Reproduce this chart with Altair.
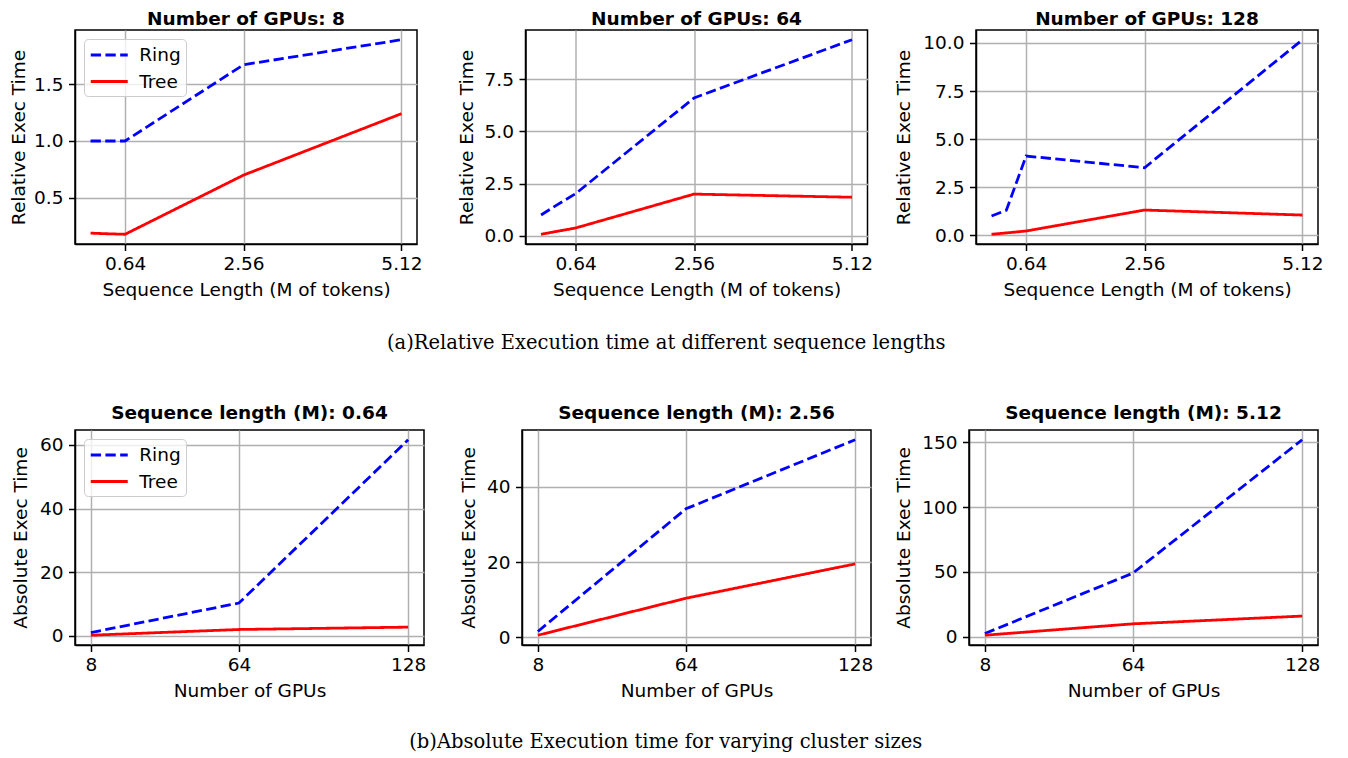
import altair as alt
import pandas as pd

# ---------------- data ----------------
seq_len = [0.08, 0.32, 0.64, 2.56, 5.12]
gpus = [8, 64, 128]
seq_ticks = [0.64, 2.56, 5.12]

rel_ring_8 = [1.0, 1.0, 1.0, 1.67, 1.89]
rel_tree_8 = [0.19, 0.185, 0.18, 0.70, 1.24]
rel_ring_64 = [1.0, 1.45, 2.02, 6.6, 9.38]
rel_tree_64 = [0.08, 0.21, 0.38, 2.0, 1.85]
rel_ring_128 = [1.0, 1.3, 4.12, 3.51, 10.17]
rel_tree_128 = [0.05, 0.12, 0.22, 1.31, 1.05]

abs_ring_064 = [1.05, 10.3, 61.6]
abs_tree_064 = [0.2, 2.0, 2.74]
abs_ring_256 = [1.6, 34.1, 52.4]
abs_tree_256 = [0.6, 10.4, 19.5]
abs_ring_512 = [2.3, 49.0, 152.0]
abs_tree_512 = [1.0, 9.8, 15.8]

top_titles = ["Number of GPUs: 8", "Number of GPUs: 64", "Number of GPUs: 128"]
bot_titles = ["Sequence length (M): 0.64", "Sequence length (M): 2.56", "Sequence length (M): 5.12"]
yticks_top = [[0.5, 1.0, 1.5], [0.0, 2.5, 5.0, 7.5], [0.0, 2.5, 5.0, 7.5, 10.0]]
yticks_bot = [[0, 20, 40, 60], [0, 20, 40], [0, 50, 100, 150]]
methods = ["Ring", "Tree"]
caption_a = "(a)Relative Execution time at different sequence lengths"
caption_b = "(b)Absolute Execution time for varying cluster sizes"

FONT = "DejaVu Sans"
FS = 18.5


def pad_domain(vals):
    lo, hi = min(vals), max(vals)
    p = 0.05 * (hi - lo)
    return [lo - p, hi + p]


def panel(xs, ring, tree, title, xtitle, ytitle, xticks, yticks, xfmt, yfmt,
          w, h, legend, extent, tpad, title_offset):
    df = pd.DataFrame({
        "x": list(xs) + list(xs),
        "y": list(ring) + list(tree),
        "method": [methods[0]] * len(xs) + [methods[1]] * len(xs),
    })
    if legend:
        leg = alt.Legend(
            title=None, orient="top-left", offset=9, padding=5,
            strokeColor="#cccccc", fillColor="rgba(255,255,255,0.8)",
            cornerRadius=4, labelFont=FONT, labelFontSize=FS, labelColor="black",
            symbolType="M-2,0L2,0", symbolSize=342, symbolStrokeWidth=2.8,
            symbolOffset=9.25, labelOffset=19, rowPadding=5.5,
        )
    else:
        leg = None
    return alt.Chart(df).mark_line(strokeWidth=2.8).encode(
        x=alt.X("x:Q", title=xtitle,
                scale=alt.Scale(domain=pad_domain(xs), nice=False, zero=False),
                axis=alt.Axis(values=xticks, format=xfmt, labelFlush=False)),
        y=alt.Y("y:Q", title=ytitle,
                scale=alt.Scale(domain=pad_domain(list(ring) + list(tree)), nice=False, zero=False),
                axis=alt.Axis(values=yticks, format=yfmt, minExtent=extent,
                              maxExtent=extent, titlePadding=tpad, labelPadding=5.5)),
        color=alt.Color("method:N", scale=alt.Scale(domain=methods, range=["#0000ff", "#ff0000"]),
                        legend=leg),
        strokeDash=alt.StrokeDash("method:N",
                                  scale=alt.Scale(domain=methods, range=[[10.3, 4.4], [1, 0]]),
                                  legend=leg),
        order=alt.Order("x:Q"),
    ).properties(
        width=w, height=h,
        title=alt.TitleParams(text=title, font=FONT, fontSize=FS, fontWeight="bold",
                              color="black", offset=title_offset),
    )


top_data = [(rel_ring_8, rel_tree_8), (rel_ring_64, rel_tree_64), (rel_ring_128, rel_tree_128)]
bot_data = [(abs_ring_064, abs_tree_064), (abs_ring_256, abs_tree_256), (abs_ring_512, abs_tree_512)]
top_extent = [44, 47, 60]
bot_extent = [41, 40, 52]

top_panels = [
    panel(seq_len, r, t, top_titles[i], "Sequence Length (M of tokens)", "Relative Exec Time",
          seq_ticks, yticks_top[i], ".2f", ".1f", 342, 214, i == 0, top_extent[i], 2.5, 2)
    for i, (r, t) in enumerate(top_data)
]
bot_panels = [
    panel(gpus, r, t, bot_titles[i], "Number of GPUs", "Absolute Exec Time",
          gpus, yticks_bot[i], "d", "d", 349, 215, i == 0, bot_extent[i], 3.25, 8)
    for i, (r, t) in enumerate(bot_data)
]

cap_style = dict(orient="bottom", anchor="middle", font="DejaVu Serif", fontSize=19.5,
                 fontWeight="normal", color="black")

row_a = alt.hconcat(*top_panels, spacing=108.5, bounds="flush").resolve_scale(
    x="independent", y="independent", color="independent", strokeDash="independent"
).properties(title=alt.TitleParams(text=caption_a, offset=34, **cap_style))
row_b = alt.hconcat(*bot_panels, spacing=98, bounds="flush").resolve_scale(
    x="independent", y="independent", color="independent", strokeDash="independent"
).properties(title=alt.TitleParams(text=caption_b, offset=32, **cap_style))

chart = alt.vconcat(row_a, row_b, spacing=49).properties(
    padding={"left": 0, "top": 0, "right": 0, "bottom": 0},
    background="white",
).configure_view(
    stroke="black", strokeWidth=1.5,
).configure_axis(
    labelFont=FONT, labelFontSize=FS, labelColor="black",
    titleFont=FONT, titleFontSize=FS, titleFontWeight="normal", titleColor="black",
    tickSize=6.5, tickWidth=1.5, tickColor="black", labelPadding=6.5,
    domainColor="black", domainWidth=1.5,
    grid=True, gridColor="#b0b0b0", gridWidth=1.5,
).configure_axisX(
    titlePadding=8, labelPadding=3.5,
)

chart.save("out.html", embed_options={"renderer": "svg", "actions": False})
